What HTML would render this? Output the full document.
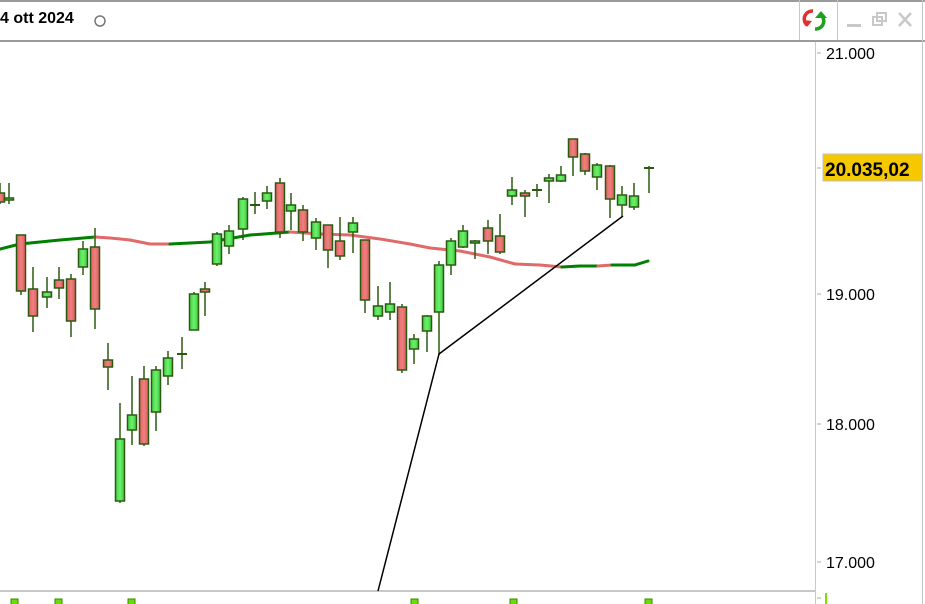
<!DOCTYPE html>
<html><head><meta charset="utf-8"><style>
html,body{margin:0;padding:0;background:#fff;}
body{width:925px;height:604px;overflow:hidden;position:relative;font-family:"Liberation Sans",sans-serif;}
</style></head><body>
<svg id="s" width="925" height="604" xmlns="http://www.w3.org/2000/svg" style="position:absolute;left:0;top:0">
<defs>
<linearGradient id="gg" x1="0" x2="1"><stop offset="0" stop-color="#3fd23f"/><stop offset="0.5" stop-color="#6ef06e"/><stop offset="1" stop-color="#3cc83c"/></linearGradient>
<linearGradient id="rg" x1="0" x2="1"><stop offset="0" stop-color="#e06060"/><stop offset="0.5" stop-color="#f08080"/><stop offset="1" stop-color="#dc5c5c"/></linearGradient>
</defs>
<rect x="0" y="0" width="925" height="2" fill="#9a9a9a"/>
<rect x="0" y="40" width="925" height="2" fill="#9a9a9a"/>
<line x1="799.5" y1="0" x2="799.5" y2="40" stroke="#c8c8c8"/>
<line x1="837.5" y1="0" x2="837.5" y2="40" stroke="#c8c8c8"/>
<line x1="815.5" y1="42" x2="815.5" y2="604" stroke="#c8c8c8"/>
<line x1="922.5" y1="0" x2="922.5" y2="604" stroke="#c8c8c8"/>
<rect x="0" y="590" width="816" height="2" fill="#c8c8c8"/>
<text x="0" y="23" font-size="16" font-weight="bold" fill="#000">4 ott 2024</text>
<circle cx="100" cy="21" r="5" fill="none" stroke="#777" stroke-width="1.5"/>
<path d="M813 11 a8 8 0 0 0 -6 14" stroke="#e03030" stroke-width="3.5" fill="none"/><path d="M803 20 l4 7 l5 -6z" fill="#e03030"/>
<path d="M815 29 a8 8 0 0 0 6 -14" stroke="#20a020" stroke-width="3.5" fill="none"/><path d="M815 18 l6 -7 l6 7z" fill="#20a020"/>
<rect x="847" y="24" width="14" height="3" fill="#c8c8c8"/>
<rect x="873" y="17" width="9" height="8" fill="none" stroke="#c8c8c8" stroke-width="2"/><rect x="877" y="13" width="9" height="8" fill="none" stroke="#c8c8c8" stroke-width="2"/>
<path d="M899 13 l12 13 M911 13 l-12 13" stroke="#c8c8c8" stroke-width="2.5"/>
<g font-size="16" fill="#000">
<text x="826" y="59">21.000</text>
<text x="826" y="300">19.000</text>
<text x="826" y="430">18.000</text>
<text x="826" y="568">17.000</text>
</g>
<g stroke="#aaa"><line x1="817" y1="53" x2="821" y2="53"/><line x1="817" y1="294" x2="821" y2="294"/><line x1="817" y1="424" x2="821" y2="424"/><line x1="817" y1="562" x2="821" y2="562"/><line x1="817" y1="168" x2="821" y2="168"/><line x1="817" y1="598" x2="821" y2="598"/></g>
<rect x="823" y="154" width="99" height="27" fill="#f5c800" stroke="#c0c0c0"/>
<text x="825" y="176" font-size="19" font-weight="bold" fill="#000">20.035,02</text>
<rect x="825" y="593" width="2" height="11" fill="#7de000"/>
<g fill="#6add00" stroke="#3a8a00"><rect x="11" y="599" width="7" height="6"/><rect x="55" y="599" width="7" height="6"/><rect x="128" y="599" width="7" height="6"/><rect x="411" y="599" width="7" height="6"/><rect x="510" y="599" width="7" height="6"/><rect x="645" y="599" width="7" height="6"/></g>
<g id="ma" fill="none" stroke-width="3"></g>
<g id="c"></g>
<polyline points="378,591 439,354 623,216" fill="none" stroke="#000" stroke-width="1.5"/>
</svg>
<script>
var C=[[0,193,202,183,204],[9,200,198,183,204],[21,235,291,235,295],[33,289,316,267,332],[47,297,292,277,308],[59,280,288,267,299],[71,279,321,274,337],[83,267,249,241,275],[95,247,309,228,329],[108,360,367,343,390],[120,501,439,403,503],[132,430,415,376,445],[144,379,444,366,446],[156,412,370,366,431],[168,376,358,351,385],[182,354,354,337,369],[194,330,294,292,316],[205,289,292,282,316],[217,264,234,232,266],[229,246,231,225,254],[243,229,199,197,240],[255,205,205,192,214],[267,201,193,186,209],[280,183,232,178,238],[291,211,205,193,230],[303,210,232,205,241],[316,238,222,218,250],[328,225,250,225,268],[340,241,256,217,260],[353,232,223,217,253],[365,240,300,240,313],[378,316,306,286,320],[390,312,304,282,320],[402,307,370,304,373],[414,349,339,334,364],[427,331,316,315,352],[439,312,265,261,355],[451,265,241,238,275],[463,247,231,225,248],[475,243,241,240,259],[488,228,241,220,254],[500,236,252,214,254],[512,196,190,177,205],[525,193,196,190,217],[537,190,190,184,197],[549,181,178,174,203],[561,181,175,166,182],[573,139,157,139,176],[585,154,171,153,175],[597,177,165,163,190],[610,166,199,165,218],[622,205,195,186,216],[634,207,196,183,210],[649,168,168,166,193]];
var g=document.getElementById('c'),h='';
C.forEach(function(d){var x=d[0],o=d[1],c=d[2];h+='<line x1="'+x+'" y1="'+d[3]+'" x2="'+x+'" y2="'+d[4]+'" stroke="#2a5a10" stroke-width="1.5"/>';
if(Math.abs(o-c)<1){h+='<line x1="'+(x-5)+'" y1="'+o+'" x2="'+(x+5)+'" y2="'+o+'" stroke="#2a5a10" stroke-width="2"/>';}
else{var t=Math.min(o,c),b=Math.max(o,c);h+='<rect x="'+(x-4.5)+'" y="'+t+'" width="9" height="'+(b-t)+'" fill="url(#'+(c<o?'gg':'rg')+')" stroke="#2a5a10" stroke-width="1.5"/>';}});
g.innerHTML=h;
var M=[[0,249,'g'],[20,244,'g'],[60,240,'g'],[95,237,'r'],[110,238,'r'],[130,240,'r'],[150,244,'r'],[170,244,'g'],[210,242,'g'],[250,235,'g'],[290,232,'r'],[320,234,'r'],[350,235,'r'],[380,239,'r'],[410,244,'r'],[430,248,'r'],[460,251,'r'],[490,257,'r'],[515,264,'r'],[540,265,'r'],[562,267,'g'],[580,266,'g'],[598,266,'r'],[612,265,'g'],[635,265,'g'],[648,261,'g']];
var m='';for(var i=0;i<M.length-1;i++){m+='<line x1="'+M[i][0]+'" y1="'+M[i][1]+'" x2="'+M[i+1][0]+'" y2="'+M[i+1][1]+'" stroke="'+(M[i][2]=='g'?'#008000':'#e06a6a')+'" stroke-linecap="round"/>';}
document.getElementById('ma').innerHTML=m;
</script>
</body></html>
